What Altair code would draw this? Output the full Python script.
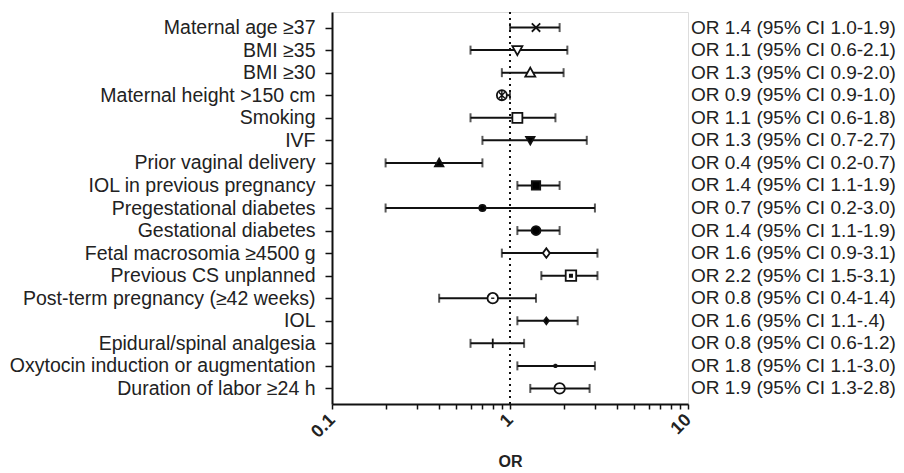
import altair as alt
import pandas as pd

names = [
    "Maternal age \u226537",
    "BMI \u226535",
    "BMI \u226530",
    "Maternal height >150 cm",
    "Smoking",
    "IVF",
    "Prior vaginal delivery",
    "IOL in previous pregnancy",
    "Pregestational diabetes",
    "Gestational diabetes",
    "Fetal macrosomia \u22654500 g",
    "Previous CS unplanned",
    "Post-term pregnancy (\u226542 weeks)",
    "IOL",
    "Epidural/spinal analgesia",
    "Oxytocin induction or augmentation",
    "Duration of labor \u226524 h",
]
or_vals = [1.4, 1.1, 1.3, 0.9, 1.1, 1.3, 0.4, 1.4, 0.7, 1.4, 1.6, 2.2, 0.8, 1.6, 0.8, 1.8, 1.9]
ci_lo = [1.0, 0.6, 0.9, 0.9, 0.6, 0.7, 0.2, 1.1, 0.2, 1.1, 0.9, 1.5, 0.4, 1.1, 0.6, 1.1, 1.3]
ci_hi = [1.9, 2.1, 2.0, 1.0, 1.8, 2.7, 0.7, 1.9, 3.0, 1.9, 3.1, 3.1, 1.4, 2.4, 1.2, 3.0, 2.8]
right_labels = [
    "OR 1.4 (95% CI 1.0-1.9)",
    "OR 1.1 (95% CI 0.6-2.1)",
    "OR 1.3 (95% CI 0.9-2.0)",
    "OR 0.9 (95% CI 0.9-1.0)",
    "OR 1.1 (95% CI 0.6-1.8)",
    "OR 1.3 (95% CI 0.7-2.7)",
    "OR 0.4 (95% CI 0.2-0.7)",
    "OR 1.4 (95% CI 1.1-1.9)",
    "OR 0.7 (95% CI 0.2-3.0)",
    "OR 1.4 (95% CI 1.1-1.9)",
    "OR 1.6 (95% CI 0.9-3.1)",
    "OR 2.2 (95% CI 1.5-3.1)",
    "OR 0.8 (95% CI 0.4-1.4)",
    "OR 1.6 (95% CI 1.1-.4)",
    "OR 0.8 (95% CI 0.6-1.2)",
    "OR 1.8 (95% CI 1.1-3.0)",
    "OR 1.9 (95% CI 1.3-2.8)",
]
x_tick_values = [0.1, 0.2, 0.3, 0.4, 0.5, 0.6, 0.7, 0.8, 0.9,
                 1, 2, 3, 4, 5, 6, 7, 8, 9, 10]

# marker styles (shape path, fill, size) per row
CROSS = "M-1,-1L1,1M-1,1L1,-1"
CIRCLE = "M-1,0A1,1 0 1,0 1,0A1,1 0 1,0 -1,0Z"
SQUARE = "M-1,-1H1V1H-1Z"
TRI_UP = "M0,-1L1,0.8L-1,0.8Z"
TRI_DN = "M0,1L1,-0.8L-1,-0.8Z"
DIAMOND = "M0,-1L0.75,0L0,1L-0.75,0Z"
VLINE = "M0,-1L0,1"
STAR = "M0,-1L0,1M-0.87,-0.5L0.87,0.5M-0.87,0.5L0.87,-0.5"
marker_style = [
    (CROSS, "white", 70),
    (TRI_DN, "white", 100),
    (TRI_UP, "white", 100),
    (CIRCLE, "white", 100),
    (SQUARE, "white", 100),
    (TRI_DN, "black", 70),
    (TRI_UP, "black", 70),
    (SQUARE, "black", 70),
    (CIRCLE, "black", 40),
    (CIRCLE, "black", 80),
    (DIAMOND, "white", 90),
    (SQUARE, "white", 110),
    (CIRCLE, "white", 110),
    (DIAMOND, "black", 45),
    (VLINE, "black", 90),
    (STAR, "black", 20),
    (CIRCLE, "white", 110),
]
inner_style = {
    3: ("M-0.6,-0.6L0.6,0.6M-0.6,0.6L0.6,-0.6M0,-1L0,1", 100),
    11: ("M-0.25,-0.25H0.25V0.25H-0.25Z", 110),
    12: ("M-0.3,0L0.3,0", 110),
    16: ("M-1,0L1,0", 110),
}

df = pd.DataFrame({
    "name": names,
    "or": or_vals,
    "lo": ci_lo,
    "hi": ci_hi,
    "rlabel": right_labels,
    "shape": [s[0] for s in marker_style],
    "fill": [s[1] for s in marker_style],
    "size": [s[2] for s in marker_style],
})
inner_df = pd.DataFrame({
    "name": [names[i] for i in inner_style],
    "or": [or_vals[i] for i in inner_style],
    "shape": [v[0] for v in inner_style.values()],
    "size": [v[1] for v in inner_style.values()],
})

FONT = "Liberation Sans"
INK = "#111111"

xscale = alt.Scale(type="log", domain=[0.1, 10], nice=False)
yscale = alt.Scale(type="point", padding=0.69)
ypos = alt.Y("name:N", sort=names, scale=yscale,
             axis=alt.Axis(title=None, labelFontSize=19.5, labelFont=FONT,
                           labelColor="#222222", labelLimit=400, tickSize=7,
                           labelPadding=10, domainColor=INK, tickColor=INK,
                           domainWidth=2, tickWidth=1.5))

xaxis = alt.Axis(
    values=x_tick_values,
    labelExpr="datum.value < 0.15 ? '0.1' : (abs(datum.value - 1) < 0.01 ? '1' : (datum.value > 9.5 ? '10' : ''))",
    labelOverlap=False, labelFlush=False,
    labelAngle=-45, labelAlign="right", labelBaseline="middle",
    labelFontSize=18, labelFont=FONT, labelFontWeight="bold", labelColor="#222222",
    labelPadding=8, tickSize=5, tickColor=INK, tickWidth=1.5,
    domainColor=INK, domainWidth=2, grid=False,
    title="OR", titleFont=FONT, titleFontSize=16, titleFontWeight="bold",
    titleColor="#222222", titleY=62, titleBaseline="alphabetic",
)

base = alt.Chart(df)

ref = alt.Chart(pd.DataFrame({"v": [1]})).mark_rule(
    color=INK, strokeDash=[2, 4], strokeWidth=2
).encode(x=alt.X("v:Q", scale=xscale, axis=xaxis))

bars = base.mark_rule(color=INK, strokeWidth=2).encode(
    x=alt.X("lo:Q", scale=xscale, axis=xaxis), x2="hi:Q", y=ypos
)
cap_lo = base.mark_tick(color=INK, size=9, thickness=2).encode(
    x=alt.X("lo:Q", scale=xscale), y=ypos
)
cap_hi = base.mark_tick(color=INK, size=9, thickness=2).encode(
    x=alt.X("hi:Q", scale=xscale), y=ypos
)
points = base.mark_point(stroke=INK, strokeWidth=1.8, opacity=1, filled=False).encode(
    x=alt.X("or:Q", scale=xscale),
    y=ypos,
    shape=alt.Shape("shape:N", scale=None),
    fill=alt.Fill("fill:N", scale=None),
    size=alt.Size("size:Q", scale=None),
)
inner = alt.Chart(inner_df).mark_point(stroke=INK, strokeWidth=1.4, fill=INK, opacity=1).encode(
    x=alt.X("or:Q", scale=xscale),
    y=alt.Y("name:N", sort=names, scale=yscale),
    shape=alt.Shape("shape:N", scale=None),
    size=alt.Size("size:Q", scale=None),
)
rtext = base.mark_text(align="left", baseline="middle", fontSize=19, font=FONT,
                       color="#222222").encode(
    x=alt.value(359), y=ypos, text="rlabel:N"
)

chart = alt.layer(ref, bars, cap_lo, cap_hi, points, inner, rtext).properties(
    width=356, height=392,
    padding={"left": 324, "top": 4, "right": 208, "bottom": 65},
    autosize=alt.AutoSizeParams(type="none"),
).configure_view(stroke=None).configure(background="white")

chart.save("out.html", embed_options={"renderer": "svg", "actions": False})
